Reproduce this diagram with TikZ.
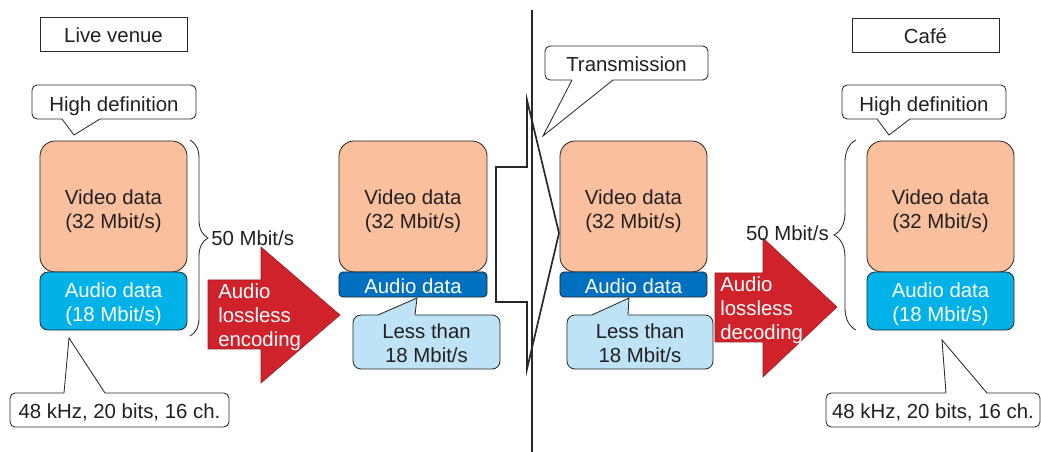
\documentclass[tikz,border=0pt]{standalone}
\usepackage{fontspec}
\setmainfont{Liberation Sans}
\usetikzlibrary{decorations.pathreplacing}

\definecolor{videofill}{RGB}{250,192,158}
\definecolor{audiofill}{RGB}{0,178,232}
\definecolor{codedfill}{RGB}{0,112,192}
\definecolor{lessfill}{RGB}{190,227,247}
\definecolor{arrowred}{RGB}{208,34,42}
\definecolor{linegray}{RGB}{40,40,40}
\definecolor{textgray}{RGB}{35,31,32}

\newcommand{\diafont}{\fontsize{14.5}{17}\selectfont}
% lowers a text block a little without changing its size
\newcommand{\dropped}[2][2pt]{\raisebox{-#1}[\height][\depth]{\begin{tabular}{@{}c@{}}#2\end{tabular}}}

\tikzset{
  box/.style={draw=linegray, line width=0.6pt, inner sep=0pt, align=center, text=textgray, font=\diafont},
  label box/.style={box, fill=white, minimum width=3.675cm, minimum height=0.85cm},
  callout box/.style={box, fill=white, rounded corners=0.13cm, minimum height=0.85cm},
  video box/.style={box, fill=videofill, rounded corners=0.38cm, minimum width=3.675cm, minimum height=3.275cm},
  audio box/.style={box, fill=audiofill, text=white, rounded corners=0.2cm, minimum width=3.675cm, minimum height=1.45cm},
  coded box/.style={box, fill=codedfill, text=white, rounded corners=0.1cm, minimum width=3.7cm, minimum height=0.625cm},
  less box/.style={box, fill=lessfill, rounded corners=0.2cm, minimum width=3.675cm, minimum height=1.35cm},
  tail/.style={draw=linegray, line width=0.6pt},
  red arrow/.style={fill=arrowred, draw={rgb,255:red,150;green,30;blue,35}, line width=0.4pt},
  arrow text/.style={inner sep=0pt, anchor=west, align=left, text=white, font=\diafont},
  rate/.style={inner sep=0pt, text=textgray, font=\diafont},
  bracket/.style={draw=linegray, line width=0.6pt, decorate},
}

\begin{document}
\begin{tikzpicture}[x=0.025cm, y=-0.025cm]
\useasboundingbox (0,0) rectangle (1041,452);

% transmission line
\draw[linegray, line width=1pt] (532,10) -- (532,452);
\draw[linegray, line width=1.2pt] (496,167) -- (527,167) -- (527,100) -- (559,233)
  -- (527,369) -- (527,302) -- (496,302) -- cycle;

% live venue side
\node[label box] (live) at (113.5,34.5) {\dropped[2.5pt]{Live venue}};
\node[callout box, minimum width=4.1cm] (hdL) at (114,102) {\dropped[3.3pt]{High definition}};
\node[video box] (vidL) at (113.5,206.5) {\dropped[3.5pt]{Video data\\(32 Mbit/s)}};
\node[audio box] (audL) at (113.5,301) {\dropped[2.8pt]{Audio data\\(18 Mbit/s)}};
\node[callout box, minimum width=5.475cm] (fmtL) at (119.5,410) {\dropped[2.7pt]{48 kHz, 20 bits, 16 ch.}};

% encoded stream
\node[video box, minimum width=3.7cm] (vidE) at (413,206.5) {\dropped[3.5pt]{Video data\\(32 Mbit/s)}};
\node[coded box] (audE) at (413,284.5) {\dropped[3pt]{Audio data}};
\node[less box] (lessE) at (426.5,342) {\dropped[2.4pt]{Less than\\18 Mbit/s}};

% received stream
\node[video box] (vidD) at (633.5,206.5) {\dropped[3.5pt]{Video data\\(32 Mbit/s)}};
\node[coded box, minimum width=3.675cm] (audD) at (633.5,284.5) {\dropped[3pt]{Audio data}};
\node[less box, minimum width=3.65cm] (lessD) at (640,342) {\dropped[2.4pt]{Less than\\18 Mbit/s}};
\node[callout box, minimum width=4.075cm] (trans) at (626.5,63) {\dropped[2.5pt]{Transmission}};

% cafe side
\node[label box] (cafe) at (925.5,35) {\dropped[2.5pt]{Café}};
\node[callout box, minimum width=4.1cm] (hdR) at (924,102) {\dropped[3.3pt]{High definition}};
\node[video box] (vidR) at (940.5,206.5) {\dropped[3.5pt]{Video data\\(32 Mbit/s)}};
\node[audio box] (audR) at (940.5,301) {\dropped[2.8pt]{Audio data\\(18 Mbit/s)}};
\node[callout box, minimum width=5.35cm] (fmtR) at (933,410) {\dropped[2.7pt]{48 kHz, 20 bits, 16 ch.}};

% callout tails
\fill[white] (62,116) -- (62,119) -- (74,135) -- (100,119) -- (100,116) -- cycle;
\draw[tail] (62,119) -- (74,135) -- (100,119);
\fill[white] (877,116) -- (877,119) -- (889,135) -- (910,119) -- (910,116) -- cycle;
\draw[tail] (877,119) -- (889,135) -- (910,119);
\fill[white] (572,77) -- (572,80) -- (543,136) -- (613,80) -- (613,77) -- cycle;
\draw[tail] (572,80) -- (543,136) -- (613,80);
\fill[white] (64,396) -- (64,393) -- (69,338) -- (105,393) -- (105,396) -- cycle;
\draw[tail] (64,393) -- (69,338) -- (105,393);
\fill[white] (946,396) -- (946,393) -- (942,340) -- (987,393) -- (987,396) -- cycle;
\draw[tail] (946,393) -- (942,340) -- (987,393);
\fill[lessfill] (378,318) -- (378,315) -- (417,298) -- (415,315) -- (415,318) -- cycle;
\draw[tail] (378,315) -- (417,298) -- (415,315);
\fill[lessfill] (592,318) -- (592,315) -- (629,298) -- (628,315) -- (628,318) -- cycle;
\draw[tail] (592,315) -- (629,298) -- (628,315);

% codec arrows
\filldraw[red arrow] (208,280) -- (261,280) -- (261,247) -- (340,315) -- (261,383)
  -- (261,349) -- (208,349) -- cycle;
\node[arrow text] (enc) at (218,317) {Audio\\lossless\\encoding};
\filldraw[red arrow] (715,273) -- (763,273) -- (763,238) -- (837,307) -- (763,377)
  -- (763,342) -- (715,342) -- cycle;
\node[arrow text] (dec) at (720,310) {Audio\\lossless\\decoding};

% total rates
\draw[bracket, decoration={brace, amplitude=0.45cm}] (190,140) -- (190,336);
\node[rate, anchor=west] (rateL) at (211,238) {50 Mbit/s};
\draw[bracket, decoration={brace, amplitude=0.55cm}] (856,330) -- (856,140);
\node[rate, anchor=east] (rateR) at (829,233) {50 Mbit/s};
\end{tikzpicture}
\end{document}
